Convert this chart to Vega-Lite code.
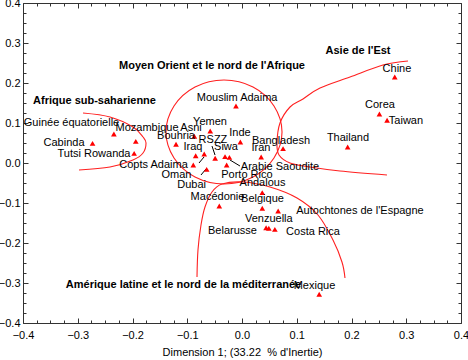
{
  "$schema": "https://vega.github.io/schema/vega-lite/v6.json",
  "width": 438,
  "height": 320,
  "autosize": {"type": "none"},
  "padding": {"left": 23, "top": 3, "right": 7, "bottom": 37},
  "config": {
    "view": {"stroke": "#333333", "strokeWidth": 1},
    "font": "Liberation Sans",
    "axis": {"domain": false, "grid": false, "tickColor": "#333333", "labelColor": "#000000", "labelFontSize": 11, "labelFont": "Liberation Sans", "titleFont": "Liberation Sans", "labelFlush": false, "labelOverlap": false, "labelBound": false}
  },
  "datasets": {
    "pts": [
      {"name": "Chine", "x": 0.279, "y": 0.215, "lx": 0.283, "ly": 0.235},
      {"name": "Corea", "x": 0.251, "y": 0.1225, "lx": 0.252, "ly": 0.145},
      {"name": "Taiwan", "x": 0.265, "y": 0.107, "lx": 0.2995, "ly": 0.105},
      {"name": "Thailand", "x": 0.193, "y": 0.04, "lx": 0.1936, "ly": 0.0625},
      {"name": "Bangladesh", "x": 0.075, "y": 0.036, "lx": 0.0712, "ly": 0.055},
      {"name": "Iran", "x": 0.035, "y": 0.015, "lx": 0.0347, "ly": 0.038},
      {"name": "Inde", "x": -0.003, "y": 0.0525, "lx": -0.0037, "ly": 0.075},
      {"name": "Mouslim Adaima", "x": -0.011, "y": 0.1425, "lx": -0.009, "ly": 0.1625},
      {"name": "Yemen", "x": -0.058, "y": 0.08, "lx": -0.0584, "ly": 0.1025},
      {"name": "Asni", "x": -0.087, "y": 0.067, "lx": -0.0931, "ly": 0.0875},
      {"name": "Bouhria", "x": -0.1205, "y": 0.047, "lx": -0.1205, "ly": 0.0675},
      {"name": "Iraq", "x": -0.0846, "y": 0.018, "lx": -0.0895, "ly": 0.04},
      {"name": "RSZZ", "x": -0.049, "y": 0.012, "lx": -0.053, "ly": 0.0575},
      {"name": "Siwa", "x": -0.031, "y": 0.016, "lx": -0.0292, "ly": 0.04},
      {"name": "Copts Adaima", "x": -0.069, "y": 0.0225, "lx": -0.1616, "ly": -0.005},
      {"name": "Arabie Saoudite", "x": -0.023, "y": 0.014, "lx": 0.0694, "ly": -0.01},
      {"name": "Porto Rico", "x": -0.028, "y": -0.005, "lx": 0.009, "ly": -0.03},
      {"name": "Oman", "x": -0.089, "y": -0.005, "lx": -0.1196, "ly": -0.03},
      {"name": "Dubai", "x": -0.0645, "y": -0.016, "lx": -0.092, "ly": -0.055},
      {"name": "Guinée équatorielle", "x": -0.234, "y": 0.0725, "lx": -0.3114, "ly": 0.1},
      {"name": "Mozambique", "x": -0.194, "y": 0.054, "lx": -0.1735, "ly": 0.0875},
      {"name": "Cabinda", "x": -0.273, "y": 0.049, "lx": -0.3251, "ly": 0.05},
      {"name": "Tutsi Rowanda", "x": -0.197, "y": 0.024, "lx": -0.2703, "ly": 0.0225},
      {"name": "Andalous", "x": 0.037, "y": -0.074, "lx": 0.0374, "ly": -0.05},
      {"name": "Belgique", "x": 0.037, "y": -0.113, "lx": 0.0374, "ly": -0.09},
      {"name": "Autochtones de l'Espagne", "x": 0.066, "y": -0.12, "lx": 0.2155, "ly": -0.12},
      {"name": "Belarusse", "x": 0.044, "y": -0.162, "lx": -0.0174, "ly": -0.17},
      {"name": "Venzuella", "x": 0.049, "y": -0.163, "lx": 0.049, "ly": -0.14},
      {"name": "Costa Rica", "x": 0.06, "y": -0.166, "lx": 0.1297, "ly": -0.1725},
      {"name": "Macédonie", "x": -0.0415, "y": -0.1075, "lx": -0.0447, "ly": -0.085},
      {"name": "Mexique", "x": 0.141, "y": -0.328, "lx": 0.1324, "ly": -0.3075}
    ],
    "groups": [
      {"label": "Asie de l'Est", "x": 0.2119, "y": 0.28},
      {"label": "Moyen Orient et le nord de l'Afrique", "x": -0.0548, "y": 0.2425},
      {"label": "Afrique sub-saharienne", "x": -0.2694, "y": 0.155},
      {"label": "Amérique latine et le nord de la méditerranée", "x": -0.1068, "y": -0.305}
    ],
    "arrows": [
      {"x1": -0.0548, "y1": 0.0425, "x2": -0.0493, "y2": 0.02},
      {"x1": -0.0785, "y1": 0.0, "x2": -0.0694, "y2": 0.015},
      {"x1": -0.0037, "y1": -0.0075, "x2": -0.0219, "y2": 0.0075},
      {"x1": -0.0749, "y1": -0.03, "x2": -0.0658, "y2": -0.015}
    ],
    "curves": [
      {"curve": "A", "o": 1, "x": -0.2904, "y": 0.125},
      {"curve": "A", "o": 2, "x": -0.2411, "y": 0.115},
      {"curve": "A", "o": 3, "x": -0.1991, "y": 0.09},
      {"curve": "A", "o": 4, "x": -0.1808, "y": 0.065},
      {"curve": "A", "o": 5, "x": -0.1753, "y": 0.05},
      {"curve": "A", "o": 6, "x": -0.1808, "y": 0.025},
      {"curve": "A", "o": 7, "x": -0.1991, "y": 0.0075},
      {"curve": "A", "o": 8, "x": -0.2411, "y": -0.01},
      {"curve": "A", "o": 9, "x": -0.2977, "y": -0.0175},
      {"curve": "E", "o": 1, "x": 0.3032, "y": 0.255},
      {"curve": "E", "o": 2, "x": 0.2575, "y": 0.245},
      {"curve": "E", "o": 3, "x": 0.1973, "y": 0.215},
      {"curve": "E", "o": 4, "x": 0.1425, "y": 0.1875},
      {"curve": "E", "o": 5, "x": 0.1114, "y": 0.16},
      {"curve": "E", "o": 6, "x": 0.0877, "y": 0.14},
      {"curve": "E", "o": 7, "x": 0.0694, "y": 0.1},
      {"curve": "E", "o": 8, "x": 0.0639, "y": 0.05},
      {"curve": "E", "o": 9, "x": 0.0676, "y": 0.02},
      {"curve": "E", "o": 10, "x": 0.0877, "y": 0.0},
      {"curve": "E", "o": 11, "x": 0.1242, "y": -0.01},
      {"curve": "E", "o": 12, "x": 0.179, "y": -0.02},
      {"curve": "E", "o": 13, "x": 0.2648, "y": -0.03},
      {"curve": "L", "o": 1, "x": -0.0822, "y": -0.285},
      {"curve": "L", "o": 2, "x": -0.0804, "y": -0.2175},
      {"curve": "L", "o": 3, "x": -0.0749, "y": -0.155},
      {"curve": "L", "o": 4, "x": -0.0676, "y": -0.11},
      {"curve": "L", "o": 5, "x": -0.0548, "y": -0.0725},
      {"curve": "L", "o": 6, "x": -0.0365, "y": -0.0525},
      {"curve": "L", "o": 7, "x": 0.0018, "y": -0.0475},
      {"curve": "L", "o": 8, "x": 0.0511, "y": -0.06},
      {"curve": "L", "o": 9, "x": 0.1005, "y": -0.0875},
      {"curve": "L", "o": 10, "x": 0.1388, "y": -0.13},
      {"curve": "L", "o": 11, "x": 0.1662, "y": -0.1925},
      {"curve": "L", "o": 12, "x": 0.1826, "y": -0.2475},
      {"curve": "L", "o": 13, "x": 0.1881, "y": -0.2875}
    ],
    "circle": [
      {"o": 1, "x": -0.0329, "y": 0.2075},
      {"o": 2, "x": 0.0201, "y": 0.19},
      {"o": 3, "x": 0.0584, "y": 0.1425},
      {"o": 4, "x": 0.0731, "y": 0.0775},
      {"o": 5, "x": 0.0584, "y": 0.0125},
      {"o": 6, "x": 0.0201, "y": -0.035},
      {"o": 7, "x": -0.0329, "y": -0.0525},
      {"o": 8, "x": -0.0858, "y": -0.035},
      {"o": 9, "x": -0.1242, "y": 0.0125},
      {"o": 10, "x": -0.1388, "y": 0.0775},
      {"o": 11, "x": -0.1242, "y": 0.1425},
      {"o": 12, "x": -0.0858, "y": 0.19}
    ]
  },
  "resolve": {"axis": {"x": "independent", "y": "independent"}},
  "layer": [
    {
      "data": {"name": "curves"},
      "mark": {"type": "line", "color": "#ff2020", "strokeWidth": 1.1, "interpolate": "cardinal"},
      "encoding": {
        "x": {"field": "x", "type": "quantitative", "scale": {"domain": [-0.4, 0.4], "nice": false, "zero": false}, "axis": null},
        "y": {"field": "y", "type": "quantitative", "scale": {"domain": [-0.4, 0.4], "nice": false, "zero": false}, "axis": null},
        "detail": {"field": "curve"},
        "order": {"field": "o", "type": "quantitative"}
      }
    },
    {
      "data": {"name": "circle"},
      "mark": {"type": "line", "color": "#ff2020", "strokeWidth": 1.1, "interpolate": "cardinal-closed"},
      "encoding": {
        "x": {"field": "x", "type": "quantitative", "scale": {"domain": [-0.4, 0.4], "nice": false, "zero": false}, "axis": null},
        "y": {"field": "y", "type": "quantitative", "scale": {"domain": [-0.4, 0.4], "nice": false, "zero": false}, "axis": null},
        "order": {"field": "o", "type": "quantitative"}
      }
    },
    {
      "mark": {"type": "rule", "color": "#555555", "strokeDash": [6, 4], "strokeWidth": 1},
      "encoding": {"x": {"datum": 0, "type": "quantitative", "scale": {"domain": [-0.4, 0.4], "nice": false, "zero": false}, "axis": null}}
    },
    {
      "mark": {"type": "rule", "color": "#555555", "strokeDash": [6, 4], "strokeWidth": 1},
      "encoding": {"y": {"datum": 0, "type": "quantitative", "scale": {"domain": [-0.4, 0.4], "nice": false, "zero": false}, "axis": null}}
    },
    {
      "data": {"name": "arrows"},
      "mark": {"type": "rule", "color": "#000000", "strokeWidth": 1},
      "encoding": {
        "x": {"field": "x1", "type": "quantitative", "scale": {"domain": [-0.4, 0.4], "nice": false, "zero": false}, "axis": {"orient": "top", "values": [-0.375, -0.35, -0.325, -0.275, -0.25, -0.225, -0.175, -0.15, -0.125, -0.075, -0.05, -0.025, 0.025, 0.05, 0.075, 0.125, 0.15, 0.175, 0.225, 0.25, 0.275, 0.325, 0.35, 0.375], "labels": false, "tickSize": -3, "title": null}},
        "y": {"field": "y1", "type": "quantitative", "scale": {"domain": [-0.4, 0.4], "nice": false, "zero": false}, "axis": {"orient": "right", "values": [-0.375, -0.35, -0.325, -0.275, -0.25, -0.225, -0.175, -0.15, -0.125, -0.075, -0.05, -0.025, 0.025, 0.05, 0.075, 0.125, 0.15, 0.175, 0.225, 0.25, 0.275, 0.325, 0.35, 0.375], "labels": false, "tickSize": -3, "title": null}},
        "x2": {"field": "x2"},
        "y2": {"field": "y2"}
      }
    },
    {
      "data": {"name": "pts"},
      "mark": {"type": "point", "shape": "triangle-up", "filled": true, "color": "#ff0000", "opacity": 1, "size": 32},
      "encoding": {
        "x": {"field": "x", "type": "quantitative", "scale": {"domain": [-0.4, 0.4], "nice": false, "zero": false}, "axis": {"orient": "bottom", "values": [-0.4, -0.3, -0.2, -0.1, 0, 0.1, 0.2, 0.3, 0.4], "format": ".1f", "tickSize": -5, "labelPadding": 11, "title": "Dimension 1; (33.22\u00a0 % d'Inertie)", "titleFontWeight": "normal", "titleFontSize": 11, "titleColor": "#000000", "titlePadding": 6}},
        "y": {"field": "y", "type": "quantitative", "scale": {"domain": [-0.4, 0.4], "nice": false, "zero": false}, "axis": {"orient": "left", "values": [-0.4, -0.3, -0.2, -0.1, 0, 0.1, 0.2, 0.3, 0.4], "format": ".1f", "tickSize": -5, "labelPadding": 8, "title": null}}
      }
    },
    {
      "data": {"name": "pts"},
      "mark": {"type": "text", "fontSize": 11, "color": "#000000", "align": "center", "baseline": "middle"},
      "encoding": {
        "x": {"field": "lx", "type": "quantitative", "scale": {"domain": [-0.4, 0.4], "nice": false, "zero": false}, "axis": {"orient": "bottom", "values": [-0.375, -0.35, -0.325, -0.275, -0.25, -0.225, -0.175, -0.15, -0.125, -0.075, -0.05, -0.025, 0.025, 0.05, 0.075, 0.125, 0.15, 0.175, 0.225, 0.25, 0.275, 0.325, 0.35, 0.375], "labels": false, "tickSize": -3, "title": null}},
        "y": {"field": "ly", "type": "quantitative", "scale": {"domain": [-0.4, 0.4], "nice": false, "zero": false}, "axis": {"orient": "left", "values": [-0.375, -0.35, -0.325, -0.275, -0.25, -0.225, -0.175, -0.15, -0.125, -0.075, -0.05, -0.025, 0.025, 0.05, 0.075, 0.125, 0.15, 0.175, 0.225, 0.25, 0.275, 0.325, 0.35, 0.375], "labels": false, "tickSize": -3, "title": null}},
        "text": {"field": "name"}
      }
    },
    {
      "data": {"name": "groups"},
      "mark": {"type": "text", "fontSize": 11, "fontWeight": "bold", "color": "#000000", "align": "center", "baseline": "middle"},
      "encoding": {
        "x": {"field": "x", "type": "quantitative", "scale": {"domain": [-0.4, 0.4], "nice": false, "zero": false}, "axis": {"orient": "top", "values": [-0.4, -0.3, -0.2, -0.1, 0, 0.1, 0.2, 0.3, 0.4], "labels": false, "tickSize": -5, "title": null}},
        "y": {"field": "y", "type": "quantitative", "scale": {"domain": [-0.4, 0.4], "nice": false, "zero": false}, "axis": {"orient": "right", "values": [-0.4, -0.3, -0.2, -0.1, 0, 0.1, 0.2, 0.3, 0.4], "labels": false, "tickSize": -5, "title": null}},
        "text": {"field": "label"}
      }
    }
  ]
}
